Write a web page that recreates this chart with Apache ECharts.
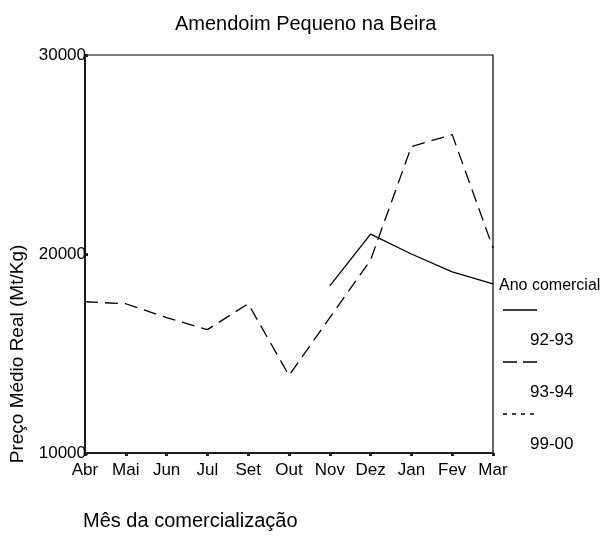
<!DOCTYPE html>
<html>
<head>
<meta charset="utf-8">
<script src="https://cdn.jsdelivr.net/npm/echarts@6/dist/echarts.min.js"></script>
<style>
  html, body { margin: 0; padding: 0; background: #fff; }
  #chart { width: 602px; height: 542px; }
</style>
</head>
<body>
<div id="chart"></div>
<script>
// dados
var meses = ["Abr", "Mai", "Jun", "Jul", "Set", "Out", "Nov", "Dez", "Jan", "Fev", "Mar"];
var ano9293 = [null, null, null, null, null, null, 18400, 21000, 20000, 19100, 18500];
var ano9394 = [17600, 17500, 16800, 16200, 17500, 13900, 16800, 19700, 25400, 26000, 20300];
var ano9900 = [null, null, null, null, null, null, null, null, null, null, null];
var legendaNomes = ["92-93", "93-94", "99-00"];
var yTicks = [10000, 20000, 30000];

var fonte = "'Liberation Sans', Arial, sans-serif";

var chart = echarts.init(document.getElementById("chart"));

// legenda desenhada à mão (amostra por cima, texto por baixo)
var tracos = [null, [14, 6], [4, 5]];
var legenda = [
  {
    type: "text", left: 499, top: 278,
    style: { text: "Ano comercial", fill: "#000", font: "16px " + fonte }
  }
];
legendaNomes.forEach(function (nome, i) {
  var yLinha = 310 + i * 52;
  legenda.push({
    type: "line",
    shape: { x1: 503, y1: yLinha, x2: 537, y2: yLinha },
    style: { stroke: "#000", lineWidth: 1.3, lineDash: tracos[i] }
  });
  legenda.push({
    type: "text", left: 530, top: yLinha + 22,
    style: { text: nome, fill: "#000", font: "17px " + fonte }
  });
});
// nome do eixo x
legenda.push({
  type: "text", left: 83, top: 511,
  style: { text: "Mês da comercialização", fill: "#000", font: "20px " + fonte }
});

var option = {
  animation: false,
  backgroundColor: "#fff",
  title: {
    text: "Amendoim Pequeno na Beira",
    left: 170,
    top: 9,
    textStyle: { color: "#000", fontSize: 20, fontWeight: "normal", fontFamily: fonte }
  },
  grid: {
    left: 83, right: 109, top: 55, bottom: 89,
    show: true, borderColor: "#000", borderWidth: 1.2
  },
  xAxis: {
    type: "category",
    boundaryGap: false,
    data: meses,
    axisLine: { lineStyle: { color: "#000", width: 1.5 } },
    axisTick: { show: true, length: 3, lineStyle: { color: "#222", width: 3 } },
    axisLabel: { color: "#000", fontSize: 17, fontFamily: fonte, margin: 9, interval: 0 }
  },
  yAxis: {
    type: "value",
    min: 10000,
    max: 30000,
    interval: 10000,
    name: "Preço Médio Real (Mt/Kg)",
    nameLocation: "middle",
    nameGap: 58,
    nameRotate: 90,
    nameTextStyle: { color: "#000", fontSize: 19, fontFamily: fonte, padding: [0, 0, 0, -200] },
    splitLine: { show: false },
    axisLine: { show: true, lineStyle: { color: "#000", width: 1.5 } },
    axisTick: { show: true, inside: true, length: 3, lineStyle: { color: "#222", width: 3 } },
    axisLabel: {
      color: "#000", fontSize: 17, fontFamily: fonte, margin: -1,
      formatter: function (v) { return yTicks.indexOf(v) >= 0 ? String(v) : ""; }
    }
  },
  series: [
    {
      name: legendaNomes[0], type: "line", data: ano9293, showSymbol: false,
      connectNulls: false,
      lineStyle: { color: "#000", width: 1.3, type: "solid" }
    },
    {
      name: legendaNomes[1], type: "line", data: ano9394, showSymbol: false,
      lineStyle: { color: "#000", width: 1.3, type: [13, 7] }
    },
    {
      name: legendaNomes[2], type: "line", data: ano9900, showSymbol: false,
      lineStyle: { color: "#000", width: 1.3, type: [4, 5] }
    }
  ],
  graphic: legenda
};

chart.setOption(option);
</script>
</body>
</html>
